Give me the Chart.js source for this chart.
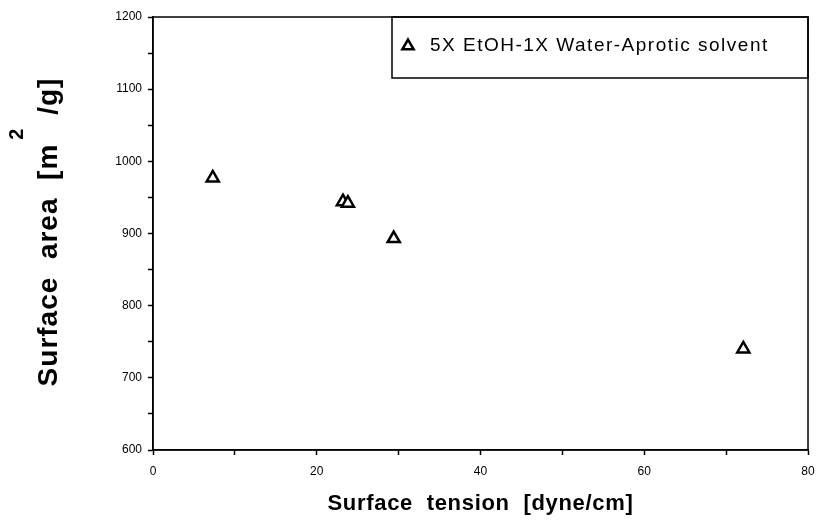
<!DOCTYPE html>
<html lang="en">
<head>
  <meta charset="UTF-8" />
  <title>Surface area vs surface tension</title>
  <script src="https://cdn.jsdelivr.net/npm/chart.js"></script>
  <style>
    html, body { margin: 0; padding: 0; background: #fff; }
    #wrap { width: 819px; height: 526px; }
  </style>
</head>
<body>
<div id="wrap"><canvas id="chart" width="819" height="526"></canvas></div>

<script>
  // data
  const seriesLabel = "5X EtOH-1X Water-Aprotic solvent";
  const surfaceTension = [7.3, 23.2, 23.8, 29.4, 72.1];   // dyne/cm
  const surfaceArea = [977, 944, 942, 893, 740];          // m2/g
  const xTickLabels = [0, 20, 40, 60, 80];
  const yTickLabels = [600, 700, 800, 900, 1000, 1100, 1200];
  const xTitle = "Surface  tension  [dyne/cm]";
  const yTitle = ["Surface  area  [m", "2", " /g]"];

  const FONT = "'Liberation Sans', Arial, sans-serif";

  // frame, boxed legend and the two axis titles
  const framePlugin = {
    id: "frame",
    afterDraw(chart) {
      const { ctx, chartArea: a } = chart;
      ctx.save();
      ctx.strokeStyle = "#000";
      ctx.lineWidth = 1.5;
      ctx.strokeRect(a.left, a.top, a.right - a.left, a.bottom - a.top);

      // legend box, upper right corner
      const boxL = a.right - 416, boxB = a.top + 61;
      ctx.strokeRect(boxL, a.top, a.right - boxL, boxB - a.top);
      const ds = chart.data.datasets[0];
      ctx.fillStyle = "#fff";
      ctx.lineWidth = 2.5;
      Chart.helpers.drawPoint(ctx, { pointStyle: "triangle", radius: 6.5, rotation: 0, borderWidth: 2.5 }, boxL + 16, a.top + 29);
      ctx.fillStyle = "#000";
      ctx.font = "19px " + FONT;
      ctx.letterSpacing = "1.5px";
      ctx.textBaseline = "middle";
      ctx.textAlign = "left";
      ctx.fillText(ds.label, boxL + 38, a.top + 29);

      // x title
      ctx.font = "bold 22px " + FONT;
      ctx.letterSpacing = "0.7px";
      ctx.textAlign = "center";
      ctx.fillText(xTitle, (a.left + a.right) / 2, 504);

      // y title with the raised "2"
      ctx.translate(49, 232);
      ctx.rotate(-Math.PI / 2);
      ctx.letterSpacing = "1px";
      ctx.font = "bold 28px " + FONT;
      ctx.textAlign = "left";
      const w0 = ctx.measureText(yTitle[0]).width;
      const w2 = ctx.measureText(yTitle[2]).width;
      ctx.font = "bold 20px " + FONT;
      const w1 = ctx.measureText(yTitle[1]).width + 8;
      const x = -(w0 + w1 + w2) / 2;
      ctx.font = "bold 28px " + FONT;
      ctx.fillText(yTitle[0], x, 0);
      ctx.font = "bold 20px " + FONT;
      ctx.fillText(yTitle[1], x + w0 + 4, -32);
      ctx.font = "bold 28px " + FONT;
      ctx.fillText(yTitle[2], x + w0 + w1, 0);
      ctx.letterSpacing = "0px";
      ctx.restore();
    }
  };

  new Chart(document.getElementById("chart"), {
    type: "scatter",
    data: {
      datasets: [{
        label: seriesLabel,
        data: surfaceTension.map((x, i) => ({ x: x, y: surfaceArea[i] })),
        pointStyle: "triangle",
        pointRadius: 7,
        pointHoverRadius: 7,
        borderWidth: 2.5,
        borderColor: "#000",
        backgroundColor: "#fff"
      }]
    },
    options: {
      responsive: false,
      animation: false,
      layout: { padding: { top: 17, right: 11, left: 0, bottom: 0 } },
      plugins: { legend: { display: false }, tooltip: { enabled: false } },
      scales: {
        x: {
          type: "linear",
          min: xTickLabels[0],
          max: xTickLabels[xTickLabels.length - 1],
          afterFit(s) { s.height = 76; s.paddingLeft = 0; s.paddingRight = 0; },
          afterBuildTicks(s) {
            const t = [];
            for (let v = s.min; v <= s.max; v += 10) t.push({ value: v });
            s.ticks = t;
          },
          ticks: {
            callback: v => xTickLabels.includes(v) ? v : "",
            color: "#000",
            font: { family: FONT, size: 12 },
            padding: 9,
            maxRotation: 0
          },
          grid: { drawOnChartArea: false, tickLength: 5, tickColor: "#000", tickWidth: 1.5 },
          border: { color: "#000", width: 1.5 }
        },
        y: {
          type: "linear",
          min: yTickLabels[0],
          max: yTickLabels[yTickLabels.length - 1],
          afterFit(s) { s.width = 153; s.paddingTop = 0; s.paddingBottom = 0; },
          afterBuildTicks(s) {
            const t = [];
            for (let v = s.min; v <= s.max; v += 50) t.push({ value: v });
            s.ticks = t;
          },
          ticks: {
            callback: v => yTickLabels.includes(v) ? v : "",
            color: "#000",
            font: { family: FONT, size: 12 },
            padding: 6
          },
          grid: { drawOnChartArea: false, tickLength: 5, tickColor: "#000", tickWidth: 1.5 },
          border: { color: "#000", width: 1.5 }
        }
      }
    },
    plugins: [framePlugin]
  });
</script>
</body>
</html>
